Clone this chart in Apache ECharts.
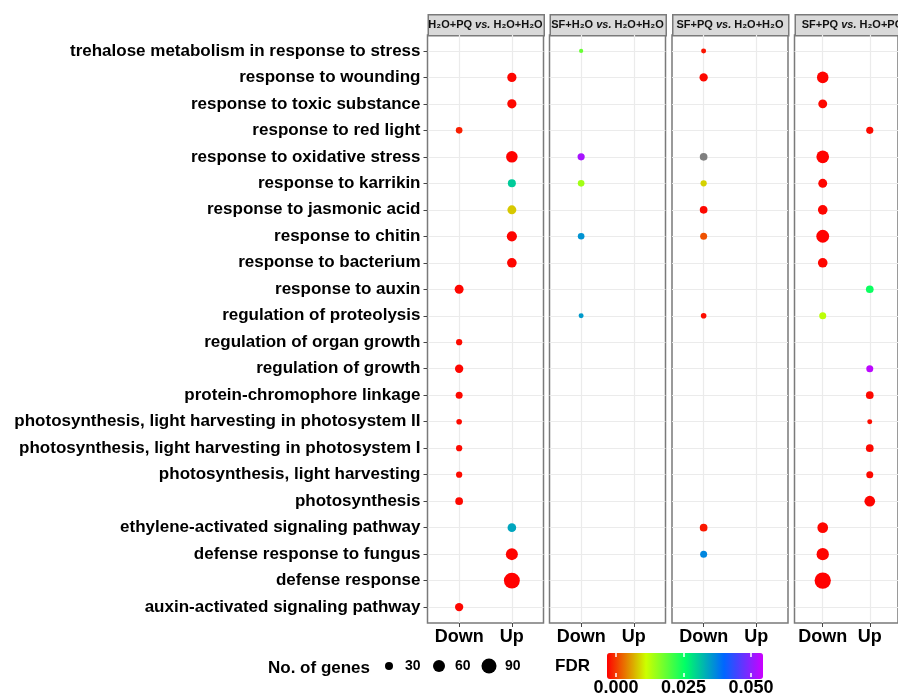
<!DOCTYPE html>
<html><head><meta charset="utf-8">
<script src="https://cdn.jsdelivr.net/npm/echarts@6/dist/echarts.min.js"></script>
<style>html,body{margin:0;padding:0;background:#fff}#c{width:898px;height:697px}</style>
</head><body><div id="c"></div>
<script>
// ---------------- data ----------------
const terms = [
  'trehalose metabolism in response to stress',
  'response to wounding',
  'response to toxic substance',
  'response to red light',
  'response to oxidative stress',
  'response to karrikin',
  'response to jasmonic acid',
  'response to chitin',
  'response to bacterium',
  'response to auxin',
  'regulation of proteolysis',
  'regulation of organ growth',
  'regulation of growth',
  'protein-chromophore linkage',
  'photosynthesis, light harvesting in photosystem II',
  'photosynthesis, light harvesting in photosystem I',
  'photosynthesis, light harvesting',
  'photosynthesis',
  'ethylene-activated signaling pathway',
  'defense response to fungus',
  'defense response',
  'auxin-activated signaling pathway'
];
const directions = ['Down', 'Up'];
const comparisons = [
  ['H₂O+PQ', 'H₂O+H₂O'],
  ['SF+H₂O', 'H₂O+H₂O'],
  ['SF+PQ', 'H₂O+H₂O'],
  ['SF+PQ', 'H₂O+PQ']
];
// per comparison, one entry per term (null = not enriched; FDR null = NA, drawn grey)
const dir1 = [null,'Up','Up','Down','Up','Up','Up','Up','Up','Down',null,'Down','Down','Down','Down','Down','Down','Down','Up','Up','Up','Down'];
const genes1 = [null,38,38,22,56,30,36,45,41,36,null,20,32,24,17,20,20,28,34,60,100,32];
const fdr1 = [null,0.0003,0.0004,0.0015,0.0001,0.0295,0.0099,0.0002,0.0003,0.0003,null,0.0005,0.0003,0.0004,0.0005,0.0005,0.0005,0.0004,0.0326,0.0002,0.00005,0.0003];

const dir2 = ['Down',null,null,null,'Down','Down',null,'Down',null,null,'Down',null,null,null,null,null,null,null,null,null,null,null];
const genes2 = [11,null,null,null,25,22,null,22,null,null,14,null,null,null,null,null,null,null,null,null,null,null];
const fdr2 = [0.0189,null,null,null,0.0482,0.0152,null,0.0342,null,null,0.0336,null,null,null,null,null,null,null,null,null,null,null];

const dir3 = ['Down','Down',null,null,'Down','Down','Down','Down',null,null,'Down',null,null,null,null,null,null,null,'Down','Down',null,null];
const genes3 = [14,32,null,null,28,20,28,24,null,null,17,null,null,null,null,null,null,null,28,24,null,null];
const fdr3 = [0.0010,0.0004,null,null,null,0.0104,0.0004,0.0040,null,null,0.0006,null,null,null,null,null,null,null,0.0012,0.0352,null,null];

const dir4 = [null,'Down','Down','Up','Down','Down','Down','Down','Down','Up','Down',null,'Up','Up','Up','Up','Up','Up','Down','Down','Down',null];
const genes4 = [null,56,36,25,66,36,41,68,41,28,24,null,24,28,14,28,24,49,49,63,104,null];
const fdr4 = [null,0.0002,0.0004,0.0005,0.0001,0.0003,0.0003,0.0001,0.0003,0.0246,0.0136,null,0.0495,0.0004,0.0006,0.0004,0.0004,0.0002,0.0003,0.0002,0.00003,null];

const sizeLegendValues = [30, 60, 90];
const fdrTicks = [0, 0.025, 0.05];
const fdrRange = [0, 0.0505];
const paletteStops = ['#FF0000', '#CCFF00', '#00FF66', '#0066FF', '#CC00FF'];

// ---------------- layout / style ----------------
const FONT = '"Liberation Sans", Arial, Helvetica, sans-serif';
const panelLefts = [427.5, 549.5, 672, 794.5];
const panelW = 116, panelTop = 35, panelH = 588;
const stripTop = 14, stripH = 21;
const borderC = '#7A7A7A', gridC = '#EBEBEB';
const rowIdx = terms.map((t, i) => i);

function sizeFn(n) { return 1.75 * Math.sqrt(n) - 1.57; }

const dirs = [dir1, dir2, dir3, dir4];
const genes = [genes1, genes2, genes3, genes4];
const fdrs = [fdr1, fdr2, fdr3, fdr4];

const grids = [], xAxes = [], yAxes = [], series = [], naSeries = [], graphics = [];
panelLefts.forEach((left, p) => {
  grids.push({left: left, top: panelTop, width: panelW, height: panelH,
    show: true, backgroundColor: '#fff', borderColor: borderC, borderWidth: 1.5, containLabel: false});
  xAxes.push({type: 'value', gridIndex: p, min: -0.6, max: 1.6, position: 'bottom',
    axisLine: {show: false, onZero: false},
    axisTick: {show: true, customValues: [0, 1], length: 4, lineStyle: {color: '#444', width: 1}},
    axisLabel: {show: true, customValues: [0, 1], formatter: v => directions[Math.round(v)],
      fontFamily: FONT, fontWeight: 'bold', fontSize: 18, color: '#000', margin: 5},
    splitLine: {show: true, lineStyle: {color: gridC, width: 1.2}}});
  yAxes.push({type: 'value', gridIndex: p, min: -0.6, max: 21.6, inverse: true, position: 'left',
    axisLine: {show: false, onZero: false},
    axisTick: {show: p === 0, customValues: rowIdx, length: 4, lineStyle: {color: '#444', width: 1}},
    axisLabel: {show: p === 0, customValues: rowIdx, formatter: v => terms[Math.round(v)],
      fontFamily: FONT, fontWeight: 'bold', fontSize: 17, color: '#000', margin: 7},
    splitLine: {show: true, lineStyle: {color: gridC, width: 1.2}}});
  const data = [], naData = [];
  terms.forEach((t, i) => {
    const d = dirs[p][i];
    if (!d) return;
    if (fdrs[p][i] == null) naData.push([directions.indexOf(d), i, genes[p][i]]);
    else data.push([directions.indexOf(d), i, genes[p][i], fdrs[p][i]]);
  });
  series.push({type: 'scatter', xAxisIndex: p, yAxisIndex: p, data: data, z: 3,
    symbol: 'circle', symbolSize: v => sizeFn(v[2]), silent: true, encode: {x: 0, y: 1},
    itemStyle: {opacity: 1}});
  naSeries.push({type: 'scatter', xAxisIndex: p, yAxisIndex: p, data: naData, z: 3,
    symbol: 'circle', symbolSize: v => sizeFn(v[2]), silent: true, encode: {x: 0, y: 1},
    itemStyle: {color: '#7F7F7F', opacity: 1}});
  const title = comparisons[p];
  graphics.push({type: 'rect', left: left, top: stripTop, silent: true,
    shape: {width: panelW, height: stripH},
    style: {fill: '#D9D9D9', stroke: borderC, lineWidth: 1.5}});
  graphics.push({type: 'text', silent: true, x: left + panelW / 2, y: stripTop + stripH / 2 + 0.5,
    style: {text: '{b|' + title[0] + ' }{i|vs.}{b| ' + title[1] + '}',
      align: 'center', verticalAlign: 'middle',
      rich: {b: {fontFamily: FONT, fontWeight: 'bold', fontSize: 11, fill: '#111'},
             i: {fontFamily: FONT, fontWeight: 'bold', fontStyle: 'italic', fontSize: 11, fill: '#111'}}}});
});
series.push(...naSeries);

// colorbar axis helper grid (index 4)
grids.push({left: 616, top: 653, width: 136.4, height: 26, show: false});
xAxes.push({type: 'value', gridIndex: 4, min: fdrRange[0], max: fdrRange[1], z: 6,
  axisLine: {show: false, onZero: false}, splitLine: {show: false},
  axisTick: {show: true, inside: true, length: 4, customValues: fdrTicks, lineStyle: {color: '#fff', width: 1.5}},
  axisLabel: {show: true, customValues: fdrTicks, formatter: v => v.toFixed(3), margin: 2,
    fontFamily: FONT, fontWeight: 'bold', fontSize: 18, color: '#000'}});
xAxes.push({type: 'value', gridIndex: 4, position: 'top', min: fdrRange[0], max: fdrRange[1], z: 6,
  axisLine: {show: false, onZero: false}, splitLine: {show: false}, axisLabel: {show: false},
  axisTick: {show: true, inside: true, length: 4, customValues: fdrTicks, lineStyle: {color: '#fff', width: 1.5}}});
yAxes.push({type: 'value', gridIndex: 4, show: false});

// size legend helper grid (index 5)
grids.push({left: 364, top: 656, width: 150, height: 20, show: false});
xAxes.push({type: 'category', gridIndex: 5, data: sizeLegendValues.map(String), show: false, boundaryGap: true});
yAxes.push({type: 'value', gridIndex: 5, min: 0, max: 1, show: false});
series.push({type: 'scatter', xAxisIndex: 6, yAxisIndex: 5, silent: true,
  data: sizeLegendValues.map((v, i) => [i, 0.5, v]),
  symbol: 'circle', symbolSize: v => sizeFn(v[2]), itemStyle: {color: '#000', opacity: 1},
  label: {show: true, position: 'inside', align: 'left', offset: [16, 0],
    formatter: p => String(p.value[2]), fontFamily: FONT, fontWeight: 'bold', fontSize: 14, color: '#000'}});

const chart = echarts.init(document.getElementById('c'), null, {renderer: 'canvas'});
chart.setOption({
  backgroundColor: '#fff',
  animation: false,
  title: [
    {text: 'No. of genes', left: 268, top: 660, padding: 0,
      textStyle: {fontFamily: FONT, fontWeight: 'bold', fontSize: 17, color: '#000'}},
    {text: 'FDR', left: 555, top: 658, padding: 0,
      textStyle: {fontFamily: FONT, fontWeight: 'bold', fontSize: 17, color: '#000'}}
  ],
  grid: grids, xAxis: xAxes, yAxis: yAxes, series: series,
  visualMap: {type: 'continuous', min: fdrRange[0], max: fdrRange[1], dimension: 3,
    seriesIndex: [0, 1, 2, 3], orient: 'horizontal', left: 607, top: 653,
    itemWidth: 26, itemHeight: 156, calculable: false, text: null, padding: 0, hoverLink: false,
    inRange: {color: paletteStops}},
  graphic: graphics
});
</script></body></html>
